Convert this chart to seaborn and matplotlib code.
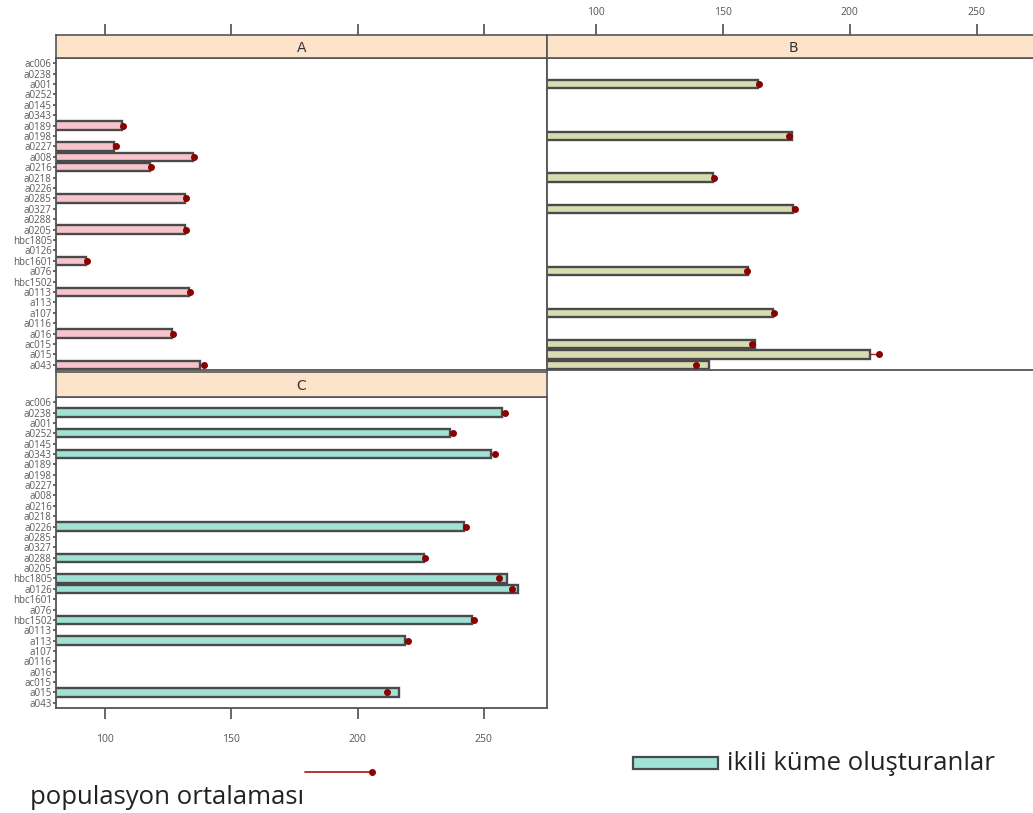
import matplotlib
matplotlib.use("Agg")
import matplotlib.pyplot as plt
import seaborn as sns
import pandas as pd
from matplotlib.lines import Line2D
from matplotlib.patches import Rectangle

sns.set_theme(style="white")
plt.rcParams['font.family'] = ['Open Sans', 'DejaVu Sans']

# ---------------- data ----------------
categories = ["ac006", "a0238", "a001", "a0252", "a0145", "a0343", "a0189", "a0198",
              "a0227", "a008", "a0216", "a0218", "a0226", "a0285", "a0327", "a0288",
              "a0205", "hbc1805", "a0126", "hbc1601", "a076", "hbc1502", "a0113",
              "a113", "a107", "a0116", "a016", "ac015", "a015", "a043"]
pop_mean = [None, 258.4, 164.3, 237.6, None, 254.4, 107.2, 176.1,
            104.4, 135.2, 118.2, 146.6, 242.8, 132.0, 178.4, 226.8,
            132.0, 256.0, 261.3, 92.8, 159.5, 246.0, 133.6,
            219.8, 170.1, None, 126.9, 161.6, 211.6, 139.2]

a_names = ["a0189", "a0227", "a008", "a0216", "a0285", "a0205", "hbc1601", "a0113", "a016", "a043"]
a_values = [106.6, 103.7, 134.8, 117.8, 131.7, 131.7, 92.5, 133.3, 126.5, 137.6]

b_names = ["a001", "a0198", "a0218", "a0327", "a076", "a107", "ac015", "a015", "a043"]
b_values = [163.9, 177.3, 146.0, 177.7, 159.9, 169.8, 162.5, 208.1, 144.5]

c_names = ["a0238", "a0252", "a0343", "a0226", "a0288", "hbc1805", "a0126", "hbc1502", "a113", "a015"]
c_values = [257.0, 236.6, 252.8, 242.2, 226.4, 259.0, 263.4, 245.2, 218.8, 216.5]

panel_titles = ["A", "B", "C"]
x_ticks = [100, 150, 200, 250]
legend_mean = "populasyon ortalaması"
legend_bar = "ikili küme oluşturanlar"

# ---------------- layout ----------------
W, H = 1033, 813
fig = plt.figure(figsize=(W / 100, H / 100), dpi=100)
fig.patch.set_facecolor("white")

def fr(x0, y0, x1, y1):
    return [x0 / W, 1 - y1 / H, (x1 - x0) / W, (y1 - y0) / H]

XLIM = (80.6, 275.0)
EDGE = "#4a4a4a"
SPINE = "#555555"
STRIP = "#fde3c9"
TICKC = "#555555"


def style_spines(ax, lw=1.3):
    for s in ax.spines.values():
        s.set_visible(True)
        s.set_color(SPINE)
        s.set_linewidth(lw)


def draw_panel(ax, names, values, color, show_y):
    df = pd.DataFrame({"name": names, "value": values})
    sns.barplot(data=df, x="value", y="name", order=categories, orient="h",
                color=color, saturation=1, edgecolor=EDGE, linewidth=1.7,
                width=0.8, ax=ax, zorder=2)
    for n, v in zip(names, values):
        i = categories.index(n)
        m = pop_mean[i]
        ax.plot([v, m], [i, i], color="#b22222", lw=1.0, zorder=1.5)
        ax.plot([m], [i], "o", color="#8b0000", ms=4, zorder=4)
    ax.set_xlim(*XLIM)
    ax.set_ylim(len(categories) - 0.5, -0.5)
    ax.set_xlabel("")
    ax.set_ylabel("")
    ax.set_xticks(x_ticks)
    style_spines(ax)
    ax.tick_params(axis="x", bottom=False, labelbottom=False)
    if show_y:
        ax.tick_params(axis="y", left=True, length=2, color=TICKC, labelsize=7,
                       labelcolor="#5a5a5a", pad=1)
    else:
        ax.tick_params(axis="y", left=False, labelleft=False)


def draw_strip(ax, title, ticks_top, labels_top):
    ax.set_facecolor(STRIP)
    ax.set_xlim(*XLIM)
    ax.set_ylim(0, 1)
    ax.set_yticks([])
    ax.text(sum(XLIM) / 2, 0.45, title, ha="center", va="center", fontsize=10,
            color="#333333", family=["DejaVu Sans"])
    style_spines(ax, 1.2)
    ax.set_xticks(x_ticks)
    ax.tick_params(axis="x", bottom=False, labelbottom=False, top=ticks_top,
                   labeltop=labels_top, direction="out", length=8, color=TICKC,
                   labelsize=7.5, labelcolor="#555555", pad=4)


# panel A
axA = fig.add_axes(fr(56, 58, 547, 370))
draw_panel(axA, a_names, a_values, "#f7c4cc", True)
sA = fig.add_axes(fr(56, 35, 547, 58))
draw_strip(sA, panel_titles[0], True, False)

# panel B
axB = fig.add_axes(fr(547, 58, 1040, 370))
draw_panel(axB, b_names, b_values, "#d9dcb0", False)
sB = fig.add_axes(fr(547, 35, 1040, 58))
draw_strip(sB, panel_titles[1], True, True)

# panel C
axC = fig.add_axes(fr(56, 397, 547, 708))
draw_panel(axC, c_names, c_values, "#a0e2d6", True)
axC.tick_params(axis="x", bottom=True, labelbottom=True, direction="out", length=8,
                color=TICKC, labelsize=7.5, labelcolor="#555555", pad=11)
sC = fig.add_axes(fr(56, 372, 547, 397))
draw_strip(sC, panel_titles[2], False, False)

# ---------------- legend ----------------
fig.add_artist(Line2D([305 / W, 372 / W], [1 - 772 / H, 1 - 772 / H],
                      color="#b22222", lw=1.3, transform=fig.transFigure))
fig.add_artist(Line2D([372 / W], [1 - 772 / H], marker="o", ms=4, color="#8b0000",
                      transform=fig.transFigure))
fig.text(30 / W, 1 - 797 / H, legend_mean, fontsize=18.5, color="#222222",
         ha="left", va="center")
fig.add_artist(Rectangle((633 / W, 1 - 769 / H), 85 / W, 12 / H, facecolor="#a0e2d6",
                         edgecolor=EDGE, lw=1.6, transform=fig.transFigure))
fig.text(727 / W, 1 - 763 / H, legend_bar, fontsize=18.5, color="#222222",
         ha="left", va="center")

fig.savefig("out.png", dpi=100, facecolor="white")
